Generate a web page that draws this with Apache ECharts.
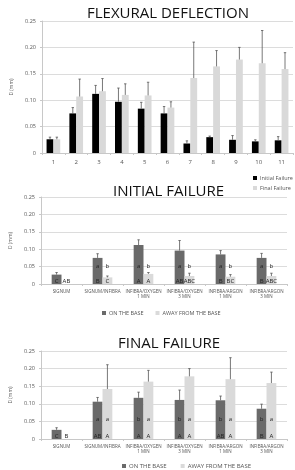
<!DOCTYPE html>
<html>
<head>
<meta charset="utf-8">
<script src="https://cdn.jsdelivr.net/npm/echarts@6/dist/echarts.min.js"></script>
<style>
  html, body { margin: 0; padding: 0; background: #fff; }
  #main { width: 295px; height: 470px; }
</style>
</head>
<body>
<div id="main"></div>
<script>
// chart 1 - flexural deflection
var fdCats = ['1', '2', '3', '4', '5', '6', '7', '8', '9', '10', '11'];
var fdInitial = [0.026, 0.075, 0.112, 0.097, 0.084, 0.075, 0.018, 0.030, 0.025, 0.022, 0.024];
var fdInitialErr = [0.030, 0.086, 0.128, 0.123, 0.096, 0.088, 0.023, 0.032, 0.033, 0.025, 0.031];
var fdFinal = [0.026, 0.107, 0.117, 0.110, 0.109, 0.086, 0.142, 0.164, 0.177, 0.170, 0.159];
var fdFinalErr = [0.030, 0.140, 0.141, 0.131, 0.134, 0.097, 0.210, 0.194, 0.200, 0.232, 0.190];

// chart 2 + 3 categories
var groupCats = ['SIGNUM', 'SIGNUM/INFIBRA', 'INFIBRA/OXYGEN\n1 MIN', 'INFIBRA/OXYGEN\n3 MIN', 'INFIBRA/ARGON\n1 MIN', 'INFIBRA/ARGON\n3 MIN'];

// initial failure
var ifOn = [0.027, 0.075, 0.112, 0.096, 0.085, 0.075];
var ifOnErr = [0.033, 0.087, 0.127, 0.125, 0.096, 0.088];
var ifAway = [0, 0.019, 0.029, 0.023, 0.021, 0.023];
var ifAwayErr = [null, 0.023, 0.033, 0.031, 0.027, 0.031];
var ifLowerOn = ['', 'a', 'a', 'a', 'a', 'a'];
var ifLowerAway = ['', 'b', 'b', 'b', 'b', 'b'];
var ifUpperOn = ['C', 'B', 'A', 'AB', 'B', 'B'];
var ifUpperAway = ['AB', 'C', 'A', 'ABC', 'BC', 'ABC'];

// final failure
var ffOn = [0.026, 0.106, 0.117, 0.111, 0.110, 0.086];
var ffOnErr = [0.032, 0.118, 0.133, 0.139, 0.122, 0.099];
var ffAway = [0, 0.142, 0.163, 0.178, 0.170, 0.159];
var ffAwayErr = [null, 0.211, 0.195, 0.200, 0.231, 0.190];
var ffLowerOn = ['', 'a', 'b', 'b', 'b', 'b'];
var ffLowerAway = ['', 'a', 'a', 'a', 'a', 'a'];
var ffUpperOn = ['C', 'AB', 'A', 'A', 'AB', 'B'];
var ffUpperAway = ['B', 'A', 'A', 'A', 'A', 'A'];

var FONT = 'Open Sans';
var myChart = echarts.init(document.getElementById('main'));

function yAxis(gi) {
    return {
        type: 'value', gridIndex: gi, min: 0, max: 0.25, interval: 0.05,
        name: 'D (mm)', nameLocation: 'middle', nameGap: 28, nameRotate: 90,
        nameTextStyle: {fontSize: 5, color: '#666', fontFamily: FONT},
        axisLabel: {
            fontSize: 5.5, color: '#555', margin: 6, fontFamily: FONT,
            formatter: function (v) { return v === 0 ? '0' : v.toFixed(2); }
        },
        axisLine: {show: true, lineStyle: {color: '#c8c8c8'}},
        axisTick: {show: true, length: 2, lineStyle: {color: '#c8c8c8'}},
        splitLine: {lineStyle: {color: '#dcdcdc'}}
    };
}

function xAxis(gi, cats, fs, margin) {
    return {
        type: 'category', gridIndex: gi, data: cats,
        axisLabel: {fontSize: fs, color: '#555', margin: margin, interval: 0, fontFamily: FONT, lineHeight: fs * 1.2},
        axisLine: {lineStyle: {color: '#c8c8c8'}},
        axisTick: {show: true, length: 2, lineStyle: {color: '#c8c8c8'}}
    };
}

//误差线
function errSeries(gi, vals, errs, side, frac) {
    var data = [];
    for (var i = 0; i < vals.length; i++) {
        if (errs[i] != null) data.push([i, vals[i], errs[i]]);
    }
    return {
        type: 'custom', xAxisIndex: gi, yAxisIndex: gi, data: data, z: 5, silent: true,
        renderItem: function (params, api) {
            var base = api.coord([api.value(0), api.value(1)]);
            var top = api.coord([api.value(0), api.value(2)]);
            var bw = api.size([1, 0])[0] * frac;
            var cx = base[0] + side * bw / 2;
            var st = {stroke: '#555', lineWidth: 0.8};
            return {
                type: 'group', children: [
                    {type: 'line', shape: {x1: cx, y1: base[1], x2: cx, y2: top[1]}, style: st},
                    {type: 'line', shape: {x1: cx - 1.2, y1: top[1], x2: cx + 1.2, y2: top[1]}, style: st}
                ]
            };
        }
    };
}

// 柱上的字母
function letterSeries(gi, letters, side, frac, level, fs) {
    var data = letters.map(function (t, i) { return [i, level]; });
    return {
        type: 'custom', xAxisIndex: gi, yAxisIndex: gi, data: data, z: 6, silent: true,
        renderItem: function (params, api) {
            var p = api.coord([api.value(0), api.value(1)]);
            var bw = api.size([1, 0])[0] * frac;
            return {
                type: 'text',
                style: {
                    x: p[0] + side * bw / 2, y: p[1], text: letters[params.dataIndex],
                    fill: '#222', fontSize: fs, fontFamily: FONT,
                    align: 'center', verticalAlign: 'middle'
                }
            };
        }
    };
}

function bar(gi, name, vals, color, width) {
    return {
        name: name, type: 'bar', xAxisIndex: gi, yAxisIndex: gi, data: vals,
        barWidth: width, barGap: '0%', itemStyle: {color: color}
    };
}

var titleStyle = {fontSize: 15, fontWeight: 'normal', color: '#111', fontFamily: FONT};

var option = {
    backgroundColor: '#fff',
    animation: false,
    title: [
        {text: 'FLEXURAL DEFLECTION', left: 82, top: 1, textStyle: titleStyle},
        {text: 'INITIAL FAILURE', left: 108, top: 179, textStyle: titleStyle},
        {text: 'FINAL FAILURE', left: 113, top: 331, textStyle: titleStyle}
    ],
    legend: [
        {
            data: ['Initial Failure', 'Final Failure'], orient: 'vertical', left: 248, top: 170,
            itemWidth: 4, itemHeight: 4, itemGap: 4, icon: 'rect',
            textStyle: {fontSize: 5.5, color: '#555', fontFamily: FONT, padding: [0, 0, 0, -2]}
        },
        {
            data: ['ON THE BASE', 'AWAY FROM THE BASE'], left: 97, top: 305,
            itemWidth: 4, itemHeight: 4, itemGap: 12, icon: 'rect',
            textStyle: {fontSize: 5.5, color: '#555', fontFamily: FONT, padding: [0, 0, 0, -2]}
        },
        {
            data: ['ON THE BASE', 'AWAY FROM THE BASE'], left: 117, top: 458,
            itemWidth: 4, itemHeight: 4, itemGap: 14, icon: 'rect',
            textStyle: {fontSize: 6, color: '#555', fontFamily: FONT, padding: [0, 0, 0, -2]}
        }
    ],
    grid: [
        {left: 42, top: 21, width: 251, height: 132},
        {left: 41, top: 197, width: 246, height: 87},
        {left: 41, top: 351, width: 246, height: 88}
    ],
    xAxis: [
        xAxis(0, fdCats, 6, 6),
        xAxis(1, groupCats, 4.5, 5),
        xAxis(2, groupCats, 4.5, 5)
    ],
    yAxis: [yAxis(0), yAxis(1), yAxis(2)],
    series: [
        bar(0, 'Initial Failure', fdInitial, '#000', '30%'),
        bar(0, 'Final Failure', fdFinal, '#d9d9d9', '30%'),
        errSeries(0, fdInitial, fdInitialErr, -1, 0.3),
        errSeries(0, fdFinal, fdFinalErr, 1, 0.3),

        bar(1, 'ON THE BASE', ifOn, '#6a6a6a', '24%'),
        bar(1, 'AWAY FROM THE BASE', ifAway, '#dadada', '24%'),
        errSeries(1, ifOn, ifOnErr, -1, 0.24),
        errSeries(1, ifAway, ifAwayErr, 1, 0.24),
        letterSeries(1, ifLowerOn, -1, 0.24, 0.052, 6),
        letterSeries(1, ifLowerAway, 1, 0.24, 0.052, 6),
        letterSeries(1, ifUpperOn, -1, 0.24, 0.008, 6),
        letterSeries(1, ifUpperAway, 1, 0.24, 0.008, 6),

        bar(2, 'ON THE BASE', ffOn, '#6a6a6a', '24%'),
        bar(2, 'AWAY FROM THE BASE', ffAway, '#dadada', '24%'),
        errSeries(2, ffOn, ffOnErr, -1, 0.24),
        errSeries(2, ffAway, ffAwayErr, 1, 0.24),
        letterSeries(2, ffLowerOn, -1, 0.24, 0.057, 6),
        letterSeries(2, ffLowerAway, 1, 0.24, 0.057, 6),
        letterSeries(2, ffUpperOn, -1, 0.24, 0.008, 6),
        letterSeries(2, ffUpperAway, 1, 0.24, 0.008, 6)
    ]
};

option && myChart.setOption(option);
</script>
</body>
</html>
